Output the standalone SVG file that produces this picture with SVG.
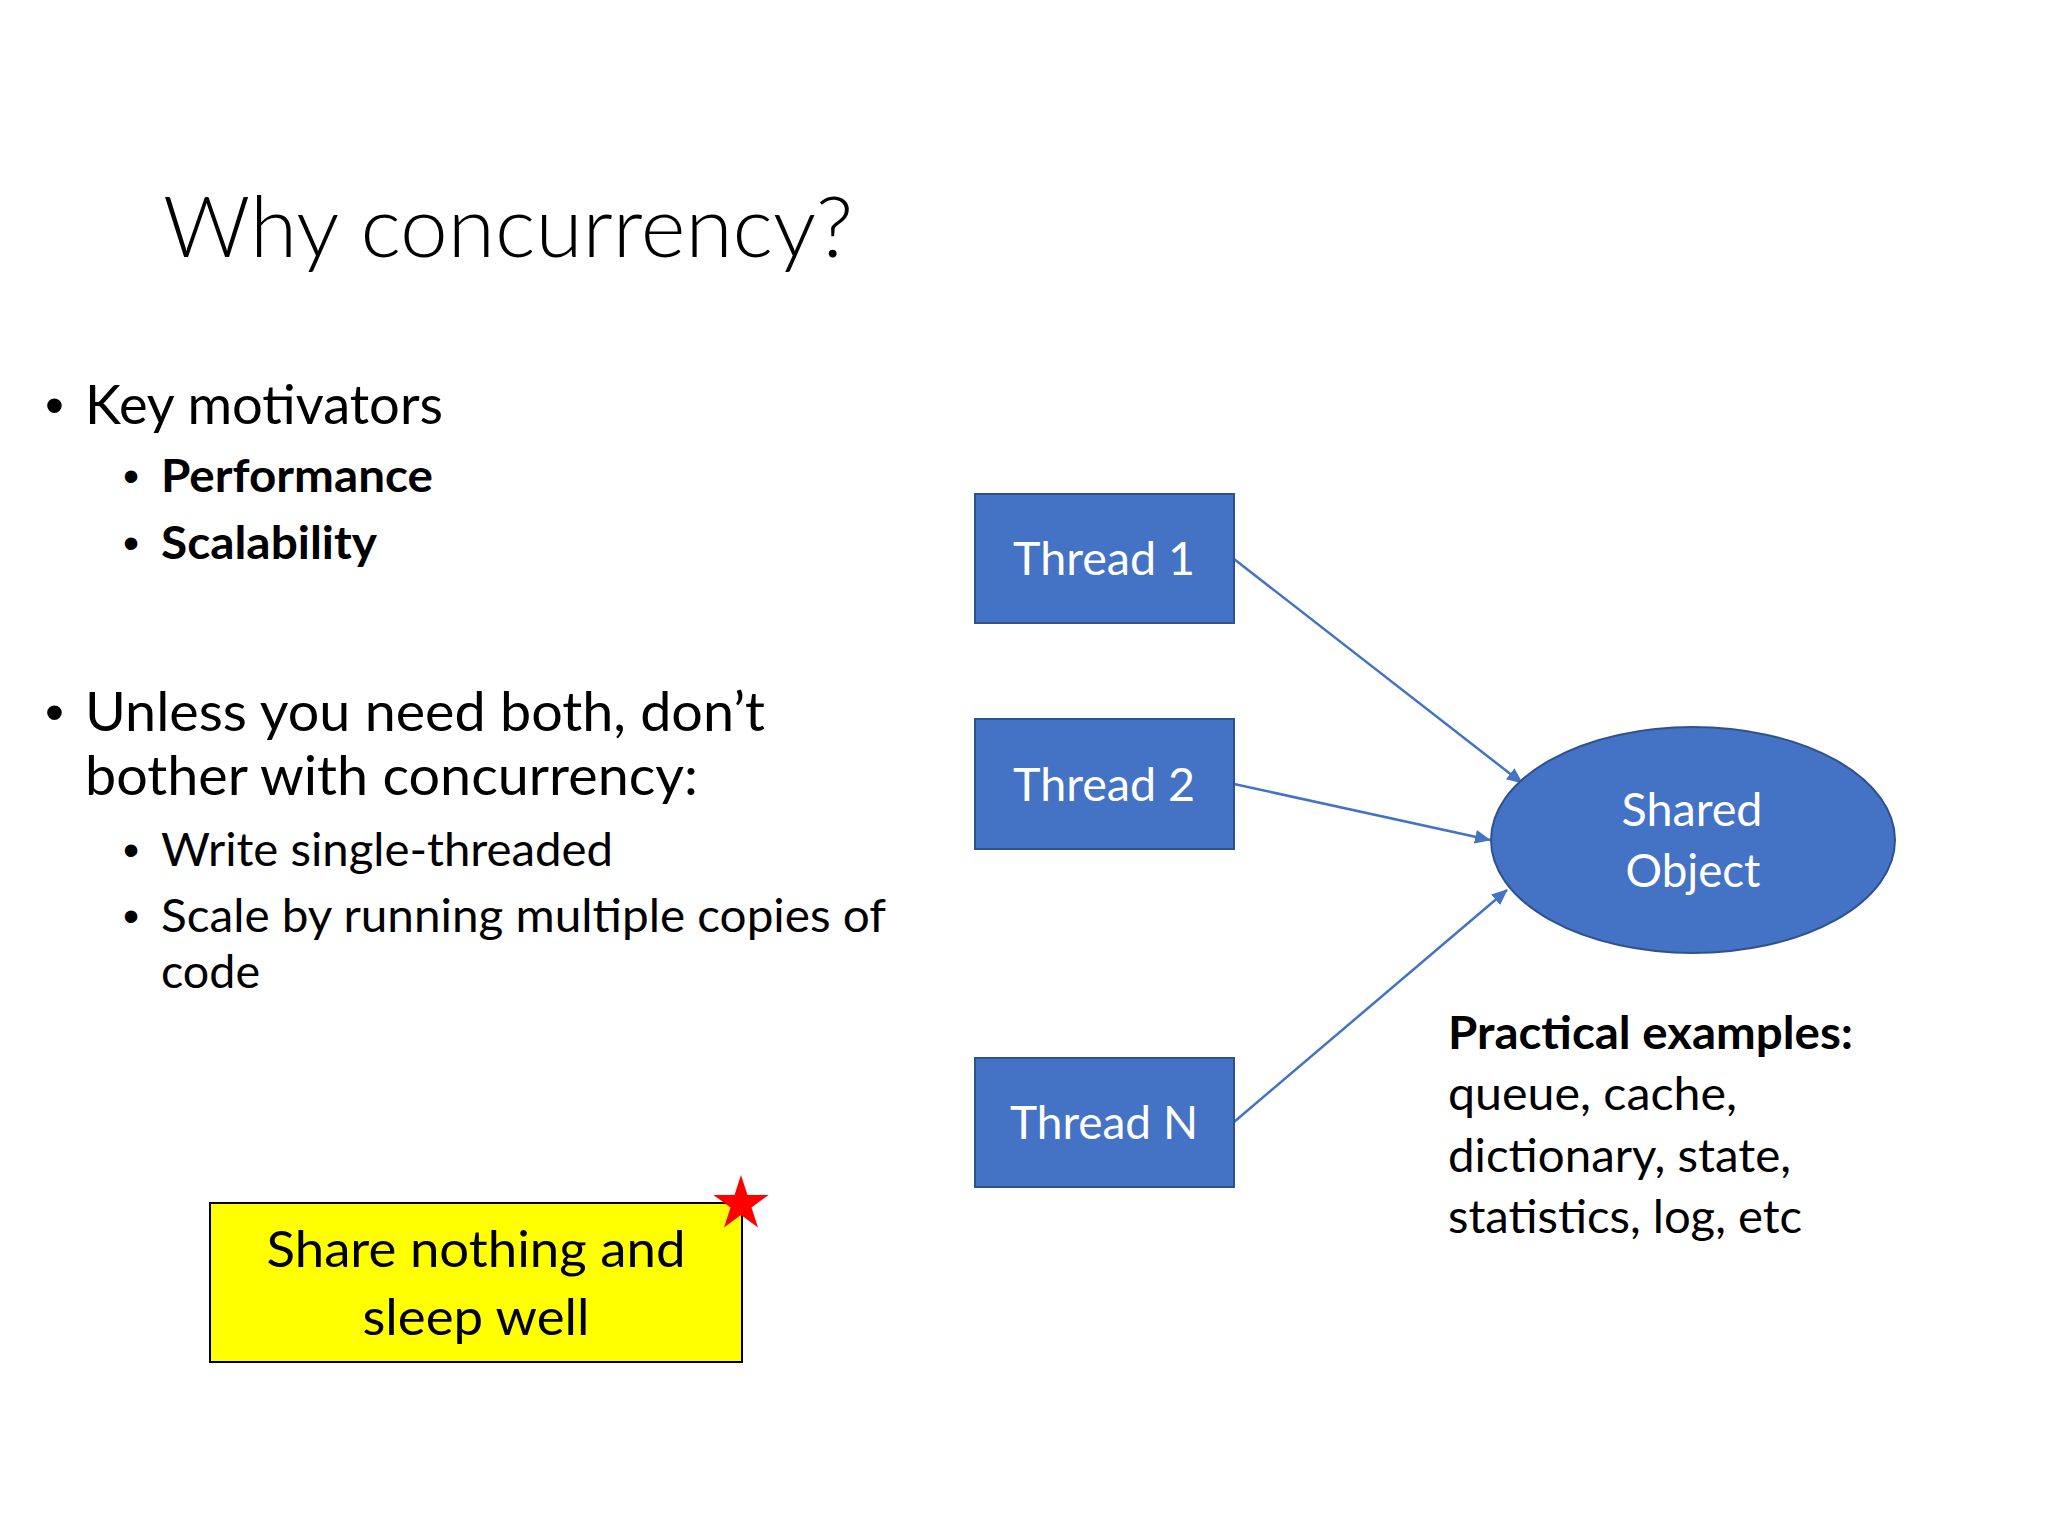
<svg xmlns="http://www.w3.org/2000/svg" width="2048" height="1536" viewBox="0 0 2048 1536">
  <defs>
    <style>
      text { font-family: Lato, "Open Sans", "Liberation Sans", sans-serif; fill: #000; }
      .title { font-size: 84px; font-weight: 300; }
      .l1 { font-size: 54px; }
      .l2 { font-size: 46px; }
      .b { font-weight: bold; }
      .bul { font-family: "Liberation Sans", Arial, sans-serif; }
      .thread rect { fill: #4472C4; stroke: #2F528F; stroke-width: 2; }
      .node-label { fill: #FFFFFF; font-size: 46px; text-anchor: middle; }
      .conn { stroke: #4472C4; stroke-width: 2.5; fill: none; marker-end: url(#arrow); }
      .note { font-size: 50px; text-anchor: middle; }
    </style>
    <marker id="arrow" viewBox="0 0 16 14" refX="15" refY="7" markerWidth="16" markerHeight="14" markerUnits="userSpaceOnUse" orient="auto">
      <path d="M0,0 L16,7 L0,14 Z" fill="#4472C4"/>
    </marker>
  </defs>
  <rect x="0" y="0" width="2048" height="1536" fill="#FFFFFF"/>

  <g id="title">
    <text class="title" x="163" y="257" textLength="690" lengthAdjust="spacingAndGlyphs">Why concurrency?</text>
  </g>

  <g id="bullets">
    <text class="l1 bul" x="45" y="424">•</text>
    <text class="l1" x="85" y="424" textLength="358" lengthAdjust="spacingAndGlyphs">Key motivators</text>
    <text class="l2 bul" x="123" y="492">•</text>
    <text class="l2 b" x="161" y="492" textLength="272" lengthAdjust="spacingAndGlyphs">Performance</text>
    <text class="l2 bul" x="123" y="559">•</text>
    <text class="l2 b" x="161" y="559" textLength="216" lengthAdjust="spacingAndGlyphs">Scalability</text>

    <text class="l1 bul" x="45" y="731">•</text>
    <text class="l1" x="85" y="731" textLength="680" lengthAdjust="spacingAndGlyphs">Unless you need both, don’t</text>
    <text class="l1" x="85" y="795" textLength="613" lengthAdjust="spacingAndGlyphs">bother with concurrency:</text>
    <text class="l2 bul" x="123" y="866">•</text>
    <text class="l2" x="161" y="866" textLength="452" lengthAdjust="spacingAndGlyphs">Write single-threaded</text>
    <text class="l2 bul" x="123" y="932">•</text>
    <text class="l2" x="161" y="932" textLength="725" lengthAdjust="spacingAndGlyphs">Scale by running multiple copies of</text>
    <text class="l2" x="161" y="988" textLength="99" lengthAdjust="spacingAndGlyphs">code</text>
  </g>

  <g id="connectors">
    <line class="conn" x1="1234" y1="559" x2="1522" y2="783"/>
    <line class="conn" x1="1234" y1="784" x2="1490" y2="840"/>
    <line class="conn" x1="1234" y1="1122" x2="1507" y2="890"/>
  </g>

  <g id="thread1" class="thread">
    <rect x="975" y="494" width="259" height="129"/>
    <text class="node-label" x="1104" y="575" textLength="182" lengthAdjust="spacingAndGlyphs">Thread 1</text>
  </g>
  <g id="thread2" class="thread">
    <rect x="975" y="719" width="259" height="130"/>
    <text class="node-label" x="1104" y="801" textLength="182" lengthAdjust="spacingAndGlyphs">Thread 2</text>
  </g>
  <g id="threadN" class="thread">
    <rect x="975" y="1058" width="259" height="129"/>
    <text class="node-label" x="1104" y="1139" textLength="188" lengthAdjust="spacingAndGlyphs">Thread N</text>
  </g>

  <g id="shared-object">
    <ellipse cx="1693" cy="840" rx="202" ry="113" fill="#4472C4" stroke="#2F528F" stroke-width="2"/>
    <text class="node-label" x="1692" y="826" textLength="141" lengthAdjust="spacingAndGlyphs">Shared</text>
    <text class="node-label" x="1693" y="887" textLength="135" lengthAdjust="spacingAndGlyphs">Object</text>
  </g>

  <g id="examples">
    <text class="l2 b" x="1448" y="1049" textLength="405" lengthAdjust="spacingAndGlyphs">Practical examples:</text>
    <text class="l2" x="1448" y="1110" textLength="289" lengthAdjust="spacingAndGlyphs">queue, cache,</text>
    <text class="l2" x="1448" y="1172" textLength="343" lengthAdjust="spacingAndGlyphs">dictionary, state,</text>
    <text class="l2" x="1448" y="1233" textLength="354" lengthAdjust="spacingAndGlyphs">statistics, log, etc</text>
  </g>

  <g id="share-nothing">
    <rect x="210" y="1203" width="532" height="159" fill="#FFFF00" stroke="#000000" stroke-width="2"/>
    <text class="note" x="476" y="1267" textLength="419" lengthAdjust="spacingAndGlyphs">Share nothing and</text>
    <text class="note" x="476" y="1335" textLength="227" lengthAdjust="spacingAndGlyphs">sleep well</text>
    <path d="M741,1175 L747.5,1195 L768.6,1195 L751.5,1207.4 L758,1227.5 L741,1215.1 L724,1227.5 L730.5,1207.4 L713.4,1195 L734.5,1195 Z" fill="#FF0000"/>
  </g>
</svg>
